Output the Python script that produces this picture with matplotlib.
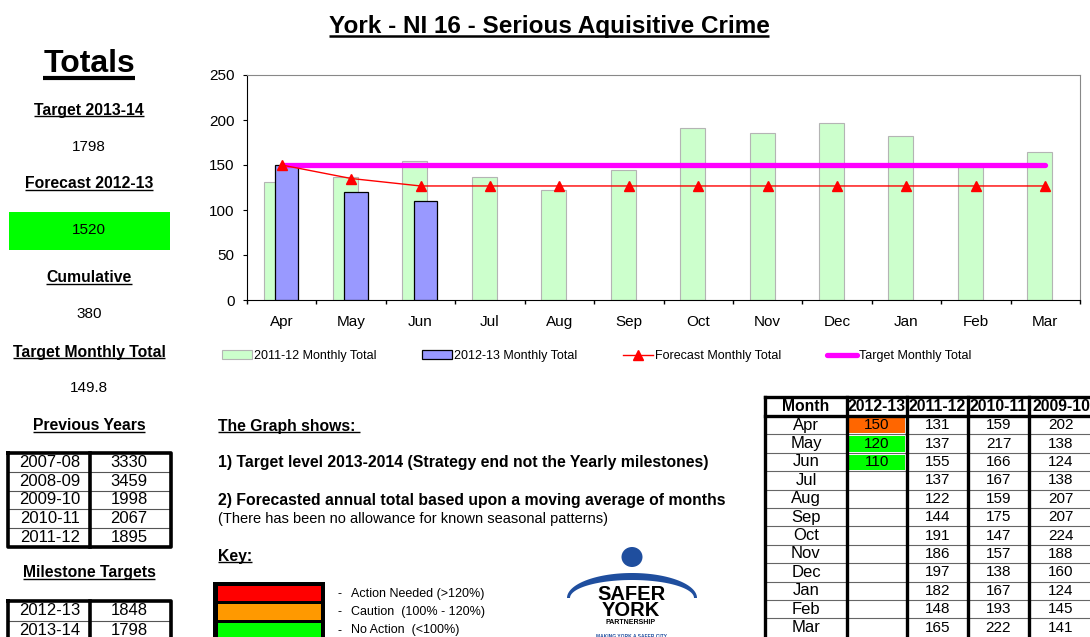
import matplotlib
matplotlib.use('Agg')
import numpy as np
import matplotlib.pyplot as plt
from matplotlib.patches import Rectangle, Ellipse, Polygon

plt.rcParams['font.family'] = ['Liberation Sans', 'DejaVu Sans']

# dane do wykresu
months = ['Apr', 'May', 'Jun', 'Jul', 'Aug', 'Sep', 'Oct', 'Nov', 'Dec', 'Jan', 'Feb', 'Mar']
total_2011_12 = [131, 137, 155, 137, 122, 144, 191, 186, 197, 182, 148, 165]
total_2012_13 = [150, 120, 110]
forecast_monthly = [150, 135, 126.7, 126.7, 126.7, 126.7, 126.7, 126.7, 126.7, 126.7, 126.7, 126.7]
target_monthly = [149.8] * 12

# tabela po prawej
total_2010_11 = [159, 217, 166, 167, 159, 175, 147, 157, 138, 167, 193, 222]
total_2009_10 = [202, 138, 124, 138, 207, 207, 224, 188, 160, 124, 145, 141]
status_2012_13 = ['#FF6600', '#00FF00', '#00FF00']
table_header = ['Month', '2012-13', '2011-12', '2010-11', '2009-10']

# panel po lewej
prev_years = ['2007-08', '2008-09', '2009-10', '2010-11', '2011-12']
prev_totals = [3330, 3459, 1998, 2067, 1895]
milestone_years = ['2012-13', '2013-14']
milestone_vals = [1848, 1798]

fig = plt.figure(figsize=(10.9, 6.37), dpi=100)
renderer = fig.canvas.get_renderer()

# tlo w pikselach
bg = fig.add_axes([0, 0, 1, 1], zorder=0)
bg.set_xlim(0, 1090)
bg.set_ylim(637, 0)
bg.axis('off')


def napis(x, y, s, size, bold=False, ha='center', underline=False, ulw=1.0, color='black'):
    t = bg.text(x, y, s, fontsize=size, fontweight='bold' if bold else 'normal',
                ha=ha, va='center', color=color)
    if underline:
        bb = t.get_window_extent(renderer=renderer)
        (x0, yb), (x1, _) = bg.transData.inverted().transform([[bb.x0, bb.y0], [bb.x1, bb.y1]])
        bg.plot([x0, x1], [yb - 1.5, yb - 1.5], color=color, lw=ulw, solid_capstyle='butt')
    return t


# tytul
napis(549, 26, 'York - NI 16 - Serious Aquisitive Crime', 17.5, bold=True, underline=True, ulw=1.8)

# lewy panel
napis(89, 64, 'Totals', 23, bold=True, underline=True, ulw=3)
napis(89, 110, 'Target 2013-14', 11.3, bold=True, underline=True)
napis(89, 147, '1798', 11)
napis(89, 184, 'Forecast 2012-13', 11.3, bold=True, underline=True)
bg.add_patch(Rectangle((9, 212), 161, 38, color='#00FF00', lw=0))
napis(89, 230, '1520', 11)
napis(89, 278, 'Cumulative', 11.3, bold=True, underline=True)
napis(89, 314, '380', 11)
napis(89, 352, 'Target Monthly Total', 11.3, bold=True, underline=True)
napis(89, 388, '149.8', 11)
napis(89, 426, 'Previous Years', 11.3, bold=True, underline=True)
napis(89, 573, 'Milestone Targets', 11.3, bold=True, underline=True)


def mala_tabela(top, row_h, years, vals, bottom=None):
    n = len(years)
    bot = bottom if bottom is not None else top + n * row_h
    for i in range(1, n):
        yy = top + i * row_h
        bg.plot([8, 171], [yy, yy], color='#555555', lw=0.8)
    for i, (yr, v) in enumerate(zip(years, vals)):
        yc = top + (i + 0.5) * row_h
        napis(50, yc, yr, 12)
        napis(129, yc, str(v), 12)
    bg.plot([8, 171, 171, 8, 8], [top, top, bot, bot, top], color='black', lw=2.6)
    bg.plot([90, 90], [top, bot], color='black', lw=2.6)


mala_tabela(453, 18.8, prev_years, prev_totals)
mala_tabela(601, 19.5, milestone_years, milestone_vals, bottom=650)

# srodkowy tekst
napis(218, 426, 'The Graph shows: ', 11.3, bold=True, ha='left', underline=True)
napis(218, 463, '1) Target level 2013-2014 (Strategy end not the Yearly milestones)', 11.3, bold=True, ha='left')
napis(218, 500, '2) Forecasted annual total based upon a moving average of months', 11.3, bold=True, ha='left')
napis(218, 519, '(There has been no allowance for known seasonal patterns)', 10.5, ha='left')
napis(218, 556, 'Key:', 11.3, bold=True, ha='left', underline=True)

bg.add_patch(Rectangle((213, 582), 112, 70, color='black', lw=0))
key_cols = ['#FF0000', '#FF9900', '#00FF00']
key_txt = ['Action Needed (>120%)', 'Caution  (100% - 120%)', 'No Action  (<100%)']
key_y = [586, 604, 623]
key_h = [15, 16, 20]
for c, t, yy, hh in zip(key_cols, key_txt, key_y, key_h):
    bg.add_patch(Rectangle((218, yy), 103, hh, color=c, lw=0))
    napis(338, yy + 8, '-', 9, ha='left')
    napis(351, yy + 7.5, t, 9, ha='left')

# logo
blue = '#1F4E9E'
bg.add_patch(Ellipse((632, 557), 21, 20, color=blue, lw=0))
th = np.linspace(0, np.pi, 100)
outer = np.column_stack([632 + 65 * np.cos(th), 598 - 25 * np.sin(th)])
inner = np.column_stack([632 + 62 * np.cos(th[::-1]), 598 - 18 * np.sin(th[::-1])])
bg.add_patch(Polygon(np.vstack([outer, inner]), closed=True, color=blue, lw=0))
napis(632, 594, 'SAFER', 14.5, bold=True)
napis(631, 611, 'YORK', 14.5, bold=True)
napis(631, 623, 'PARTNERSHIP', 5, bold=True)
napis(631, 636, 'MAKING YORK A SAFER CITY', 3.5, bold=True, color=blue)

# prawa tabela
col_edges = [765, 847, 907, 968, 1029, 1093]
h_top, h_bot = 397, 416
row_h = 18.4
for j, h in enumerate(table_header):
    napis((col_edges[j] + col_edges[j + 1]) / 2, 406.5, h, 11.3, bold=True)
for i, m in enumerate(months):
    y0 = h_bot + i * row_h
    yc = y0 + row_h / 2
    if i > 0:
        bg.plot([col_edges[0], col_edges[-1]], [y0, y0], color='#666666', lw=0.8)
    if i < len(total_2012_13):
        bg.add_patch(Rectangle((col_edges[1] + 2, y0 + 2), col_edges[2] - col_edges[1] - 4,
                               row_h - 3, color=status_2012_13[i], lw=0))
        napis((col_edges[1] + col_edges[2]) / 2, yc, str(total_2012_13[i]), 11)
    napis((col_edges[0] + col_edges[1]) / 2, yc, m, 12)
    napis((col_edges[2] + col_edges[3]) / 2, yc, str(total_2011_12[i]), 11)
    napis((col_edges[3] + col_edges[4]) / 2, yc, str(total_2010_11[i]), 11)
    napis((col_edges[4] + col_edges[5]) / 2, yc, str(total_2009_10[i]), 11)
for xe in col_edges[:-1]:
    bg.plot([xe, xe], [h_top, 645], color='black', lw=2.4)
bg.plot([col_edges[0], col_edges[-1]], [h_top, h_top], color='black', lw=2.4)
bg.plot([col_edges[0], col_edges[-1]], [h_bot, h_bot], color='black', lw=2.4)

# wykres
ax = fig.add_axes([247 / 1090, 1 - 300 / 637, (1080 - 247) / 1090, (300 - 75) / 637], zorder=1)
x = np.arange(len(months))
b1 = ax.bar(x - 0.08, total_2011_12, width=0.36, color='#CCFFCC', edgecolor='#B4B4B4', lw=0.8,
            zorder=2, label='2011-12 Monthly Total')
b2 = ax.bar(np.arange(len(total_2012_13)) + 0.07, total_2012_13, width=0.34, color='#9999FF',
            edgecolor='black', lw=0.9, zorder=3, label='2012-13 Monthly Total')
l_t, = ax.plot(x, target_monthly, color='#FF00FF', lw=3.8, solid_capstyle='round', zorder=4,
               label='Target Monthly Total')
l_f, = ax.plot(x, forecast_monthly, color='red', lw=1, marker='^', ms=7, zorder=5,
               label='Forecast Monthly Total')

ax.set_xlim(-0.5, 11.5)
ax.set_ylim(0, 250)
ax.set_yticks(range(0, 251, 50))
ax.set_xticks(x)
ax.set_xticklabels(months)
ax.set_xticks(np.arange(-0.5, 12, 1), minor=True)
ax.tick_params(axis='x', which='major', length=0, pad=11, labelsize=11)
ax.tick_params(axis='x', which='minor', length=3, direction='out', width=1)
ax.tick_params(axis='y', length=3, pad=6, labelsize=11)
ax.spines['left'].set_color('black')
ax.spines['bottom'].set_color('black')
ax.spines['top'].set_color('#888888')
ax.spines['right'].set_color('#888888')

fig.legend([b1, b2, l_f, l_t],
           ['2011-12 Monthly Total', '2012-13 Monthly Total', 'Forecast Monthly Total', 'Target Monthly Total'],
           loc='center left', bbox_to_anchor=(222 / 1090, 1 - 356 / 637), ncol=4,
           frameon=False, fontsize=9, handlelength=2.4, handletextpad=0.2,
           columnspacing=3.6, borderpad=0, borderaxespad=0)

fig.savefig('out.png', dpi=100)
